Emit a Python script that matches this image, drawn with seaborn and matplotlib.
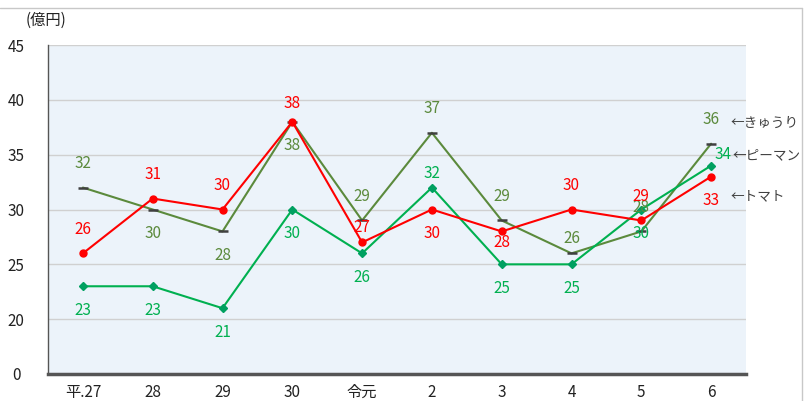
import matplotlib
matplotlib.use("Agg")
import matplotlib.pyplot as plt
import seaborn as sns
import pandas as pd
from matplotlib.lines import Line2D

categories = ["平.27", "28", "29", "30", "令元", "2", "3", "4", "5", "6"]
kyuri = [32, 30, 28, 38, 29, 37, 29, 26, 28, 36]
piman = [23, 23, 21, 30, 26, 32, 25, 25, 30, 34]
tomato = [26, 31, 30, 38, 27, 30, 28, 30, 29, 33]
series_names = ["きゅうり", "ピーマン", "トマト"]
ytick_values = [0, 20, 25, 30, 35, 40, 45]

sns.set_theme(style="white")
plt.rcParams['font.family'] = ['Noto Sans CJK JP', 'DejaVu Sans']

fig = plt.figure(figsize=(8.09, 4.01), dpi=100)
ax = fig.add_axes([48/809, 1-374/401, (746-48)/809, (374-45)/401])
ax.set_facecolor("#ecf3fa")

xs = list(range(len(categories)))
# broken axis: 0 drawn one step below 20
def ymap(v):
    return v if v >= 20 else 15 + v * 5 / 20

df = pd.DataFrame({"x": xs, "kyuri": kyuri, "piman": piman, "tomato": tomato})

styles = {
    "kyuri": dict(color="#5b8a3c", marker="_", mec="#404040", ms=7, mew=1.8),
    "piman": dict(color="#00b050", marker="D", mec="#00a060", mfc="#00a060", ms=4),
    "tomato": dict(color="#ff0000", marker="o", mec="#ff0000", mfc="#ff0000", ms=5),
}
for key in ["kyuri", "piman", "tomato"]:
    st = styles[key]
    sns.lineplot(data=df, x="x", y=key, ax=ax, color=st["color"], linewidth=1.5,
                 marker=st["marker"], markersize=st["ms"], markeredgecolor=st["mec"],
                 markerfacecolor=st.get("mfc", st["mec"]), markeredgewidth=st.get("mew", 1),
                 zorder=3)

label_dirs = {
    "tomato": [1, 1, 1, 0.75, 0.6, -1, -0.45, 1, 1, -1],
    "kyuri": [1, -1, -1, -1, 1, 1, 1, 0.6, 1, 1],
    "piman": [-1, -1, -1, -1, -1, 0.6, -1, -1, -1, 0],
}
label_colors = {"tomato": "#ff0000", "kyuri": "#5b8a3c", "piman": "#00b050"}
vals = {"tomato": tomato, "kyuri": kyuri, "piman": piman}
for key in ["kyuri", "piman", "tomato"]:
    for i, v in enumerate(vals[key]):
        d = label_dirs[key][i]
        if d == 0:
            off = (12, 11)
        else:
            off = (0, 24 * d)
        ax.annotate(str(v), (i, v), xytext=off, textcoords="offset pixels",
                    ha="center", va="center", fontsize=11, color=label_colors[key], zorder=4)

# series name annotations on the right
name_pos = {"きゅうり": kyuri[-1], "ピーマン": piman[-1], "トマト": tomato[-1]}
name_off = {"きゅうり": (19, 21), "ピーマン": (21, 10), "トマト": (19, -20)}
for n in series_names:
    ax.annotate("←" + n, (9, name_pos[n]), xytext=name_off[n], textcoords="offset pixels",
                ha="left", va="center", fontsize=9.8, color="#404040", annotation_clip=False,
                zorder=5)

ax.set_xlim(-0.5, 9.5)
ax.set_ylim(15, 45)
ax.set_yticks([ymap(v) for v in ytick_values])
ax.set_yticklabels([str(v) for v in ytick_values], fontsize=11)
ax.set_xticks(xs)
ax.set_xticklabels(categories, fontsize=11)
ax.set_xlabel("")
ax.set_ylabel("")
ax.tick_params(axis="x", length=0, pad=7, colors="#222222")
ax.tick_params(axis="y", length=0, pad=23, colors="#222222")
for lab in ax.get_yticklabels():
    lab.set_horizontalalignment("center")
ax.grid(axis="y", color="#d0d0d0", linewidth=1)
ax.set_axisbelow(True)
for s in ["top", "right"]:
    ax.spines[s].set_visible(False)
ax.spines["left"].set_color("#555555")
ax.spines["left"].set_linewidth(1)
ax.spines["bottom"].set_color("#555555")
ax.spines["bottom"].set_linewidth(2.5)

fig.text(26/809, 1-20/401, "(億円)", fontsize=11, ha="left", va="center", color="#222222")

# frame lines
fig.add_artist(Line2D([0, 802/809], [1-8/401, 1-8/401], color="#c8c8c8", lw=1))
fig.add_artist(Line2D([802/809, 802/809], [0, 1-8/401], color="#c8c8c8", lw=1))

fig.savefig("out.png", dpi=100)
